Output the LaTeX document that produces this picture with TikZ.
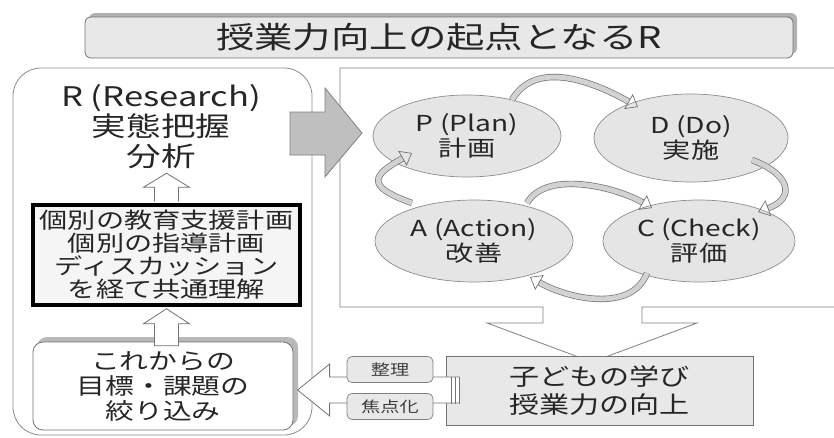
\documentclass[tikz,border=0pt]{standalone}
\usepackage{fontspec}
\setmainfont{Noto Sans CJK JP}[FakeStretch=1.28]
\usetikzlibrary{calc,shapes.geometric,arrows.meta}

\tikzset{
  box/.style={draw=black!55,line width=.8pt,fill=white,align=center,inner sep=0pt,text=black!85},
  phase/.style={draw=black!45,line width=.7pt,fill=gray!20,shape=ellipse,inner sep=0pt,align=center,
    font=\fontsize{22}{25}\selectfont,text=black!85},
  cyc/.style={draw=black!55,double=gray!35,double distance=5pt,line width=.7pt,
    -{Triangle[open,length=11pt,width=17pt]}},
  hollow/.style={draw=black!55,fill=white,line width=.8pt},
  tag/.style={draw=black!50,line width=.7pt,fill=gray!18,rounded corners=5pt,minimum width=86pt,
    minimum height=26pt,inner sep=0pt,font=\fontsize{15}{15}\selectfont,text=black!75},
}

\begin{document}
\begin{tikzpicture}[x=1pt,y=-1pt]
	\useasboundingbox (0,0) rectangle (834,437);

	% title
	\fill[gray!60,rounded corners=6pt] (89,13) rectangle (797,54);
	\node[box,fill=gray!18,rounded corners=6pt,minimum width=708pt,minimum height=41pt,
	      font=\fontsize{30}{30}\selectfont] (title) at (439,37.5) {授業力向上の起点となるR};

	% left column
	\node[box,draw=black!45,rounded corners=28pt,minimum width=299pt,minimum height=367pt] (left) at (162.5,251.5) {};
	\node[align=center,text=black!85,inner sep=0pt,font=\fontsize{27}{30}\selectfont] (rsch) at (161,127) {R (Research)\\実態把握\\分析};
	\node[box,line width=3.5pt,draw=black,fill=gray!8,minimum width=267pt,minimum height=100pt,
	      font=\fontsize{22}{23}\selectfont] (plan) at (166.5,255) {個別の教育支援計画\\個別の指導計画\\ディスカッション\\を経て共通理解};
	\fill[gray!55,rounded corners=10pt] (37,337) rectangle (298,426);
	\node[box,rounded corners=10pt,minimum width=260pt,minimum height=88pt,
	      font=\fontsize{22.5}{25}\selectfont] (goal) at (163,386) {これからの\\目標・課題の\\絞り込み};

	\draw[hollow] ($(plan.north)+(-12,-2)$) -- ++(0,-14) -- ++(-11,0) -- ++(23,-14) -- ++(23,14) -- ++(-11,0) -- ++(0,14);
	\draw[hollow] ($(plan.south)+(0,2)$) -- ++(-23,15) -- ++(11,0) -- ++(0,22) -- ++(24,0) -- ++(0,-22) -- ++(11,0) -- cycle;

	% frame and arrows
	\draw[black!50,line width=.8pt] (834,68) -- (340,68) -- (340,307) -- (543,307) -- (543,323) -- (487,323) -- (592,362)
	      -- (697,323) -- (642,323) -- (642,307) -- (834,307);
	\draw[fill=gray!50,draw=black!50,line width=.8pt] (290,112) -- (325,112) -- (325,88) -- (362,133) -- (325,177) -- (325,155) -- (290,155) -- cycle;

	% cycle
	\node[phase,minimum width=188pt,minimum height=82pt] (P) at (467,136) {P (Plan)\\計画};
	\node[phase,minimum width=194pt,minimum height=88pt] (D) at (691,138) {D (Do)\\実施};
	\node[phase,minimum width=198pt,minimum height=82pt] (A) at (474,241) {A (Action)\\改善};
	\node[phase,minimum width=192pt,minimum height=82pt] (C) at (699,241) {C (Check)\\評価};

	\draw[cyc] ($(P)+(45,-36)$) .. controls +(24,-42) and +(-42,-24) .. ($(D)+(-53,-31)$);
	\draw[cyc] ($(D)+(61,22)$) .. controls +(38,14) and +(38,-14) .. ($(C)+(59,-29)$);
	\draw[cyc] ($(A)+(53,-38)$) .. controls +(20,-34) and +(-34,-20) .. ($(C)+(-47,-33)$);
	\draw[cyc] ($(C)+(-52,32)$) .. controls +(-15,40) and +(38,22) .. ($(A)+(56,36)$);
	\draw[cyc] ($(A)+(-62,-38)$) .. controls +(-48,-17) and +(-39,22) .. ($(P)+(-55,17)$);

	% result and feedback
	\node[box,fill=gray!18,minimum width=307pt,minimum height=69pt,
	      font=\fontsize{23.5}{28}\selectfont] (out) at (599.5,390.5) {子どもの学び\\授業力の向上};
	\draw[hollow] ($(out.west)+(14,-13.5)$) -- ++(-130,0) -- ++(0,-13) -- ++(-32,26) -- ++(32,26) -- ++(0,-13) -- ++(130,0);
	\foreach \dx in {6,10,14}
		\draw[black!55,line width=.8pt] ($(out.west)+(\dx,-13.5)$) -- ++(0,27);
	\node[tag] (tidy) at (390,369.5) {整理};
	\node[tag] (focus) at (390,406.5) {焦点化};
\end{tikzpicture}
\end{document}
